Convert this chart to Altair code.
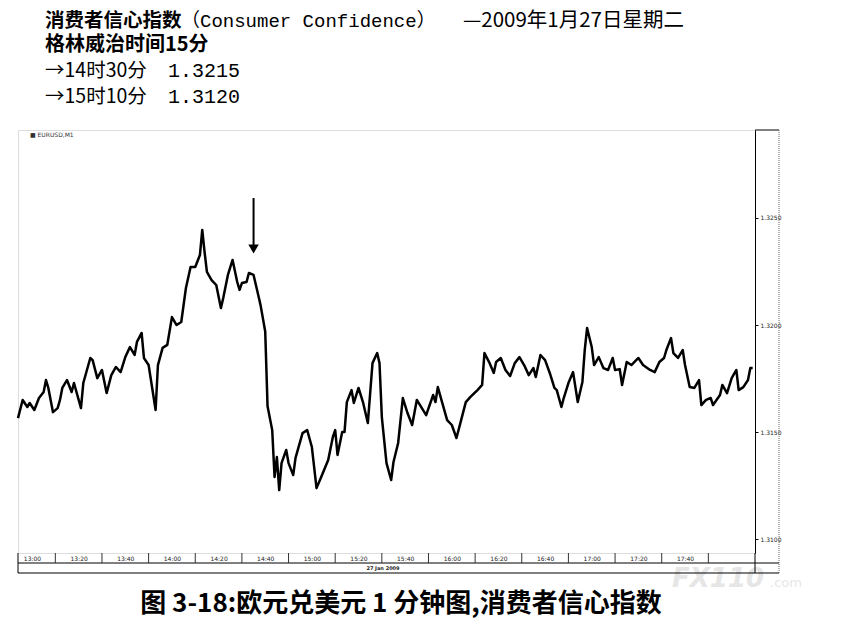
import altair as alt
import pandas as pd

# ---- data (minutes after 12:54 GMT, EURUSD price) ----
minutes = [0,2,4,5,7,9,11,12,13,15,17,18,19,21,23,24,27,28,31,32,34,36,38,40,42,44,46,48,50,51,
           53,54,56,57,59,60,62,64,66,68,70,72,74,76,78,79,80,81,83,85,87,88,90,92,94,95,96,98,99,101,
           103,104,106,107,109,110,111,112,113,115,116,118,119,122,124,126,128,130,133,135,136,137,139,140,
           141,143,144,146,148,150,151,152,154,155,156,158,160,161,163,165,167,169,171,175,178,179,180,
           184,186,188,190,192,194,197,199,200,202,204,205,207,209,211,213,215,217,219,221,222,224,226,
           228,230,231,233,234,236,238,240,242,243,244,246,247,249,251,253,255,256,258,259,261,263,266,
           268,271,273,275,277,278,280,281,283,285,286,288,290,292,293,295,297,298,301,302,304,306,308,
           309,311,313,314,315]
prices = [1.31565,1.31650,1.31617,1.31636,1.31603,1.31659,1.31687,1.31743,1.31706,1.31593,1.31612,1.31650,
          1.31706,1.31743,1.31687,1.31729,1.31612,1.31729,1.31846,1.31836,1.31752,1.31790,1.31682,1.31766,
          1.31804,1.31780,1.31850,1.31897,1.31860,1.31921,1.31963,1.31846,1.31813,1.31743,1.31603,1.31813,
          1.31893,1.31907,1.32037,1.32000,1.32014,1.32173,1.32271,1.32271,1.32327,1.32444,1.32341,1.32248,
          1.32210,1.32187,1.32079,1.32126,1.32234,1.32304,1.32201,1.32164,1.32196,1.32201,1.32243,1.32234,
          1.32140,1.32093,1.31970,1.31620,1.31509,1.31290,1.31383,1.31229,1.31355,1.31416,1.31355,1.31299,
          1.31379,1.31495,1.31509,1.31430,1.31238,1.31290,1.31369,1.31477,1.31509,1.31393,1.31500,1.31500,
          1.31640,1.31696,1.31636,1.31706,1.31636,1.31542,1.31682,1.31822,1.31869,1.31822,1.31570,1.31355,
          1.31276,1.31360,1.31449,1.31659,1.31589,1.31533,1.31650,1.31579,1.31673,1.31640,1.31710,1.31556,
          1.31533,1.31472,1.31556,1.31640,1.31664,1.31696,1.31720,1.31869,1.31827,1.31776,1.31827,1.31846,
          1.31790,1.31762,1.31822,1.31850,1.31813,1.31766,1.31799,1.31757,1.31860,1.31836,1.31776,1.31706,
          1.31696,1.31617,1.31659,1.31729,1.31780,1.31640,1.31734,1.31883,1.31986,1.31897,1.31813,1.31850,
          1.31799,1.31790,1.31846,1.31790,1.31794,1.31720,1.31827,1.31813,1.31846,1.31813,1.31790,1.31780,
          1.31827,1.31846,1.31883,1.31939,1.31869,1.31846,1.31883,1.31813,1.31710,1.31706,1.31743,1.31626,
          1.31650,1.31659,1.31626,1.31673,1.31720,1.31682,1.31752,1.31790,1.31696,1.31710,1.31743,1.31799,
          1.31799]
assert len(minutes) == len(prices)

x_tick_minutes = [6, 26, 46, 66, 86, 106, 126, 146, 166, 186, 206, 226, 246, 266, 286]
x_sep_minutes = [16, 36, 56, 76, 96, 116, 136, 156, 176, 196, 216, 236, 256, 276, 296]
y_ticks = [1.3100, 1.3150, 1.3200, 1.3250]
x_domain = [0, 316]
y_domain = [1.30935, 1.32911]

arrow_minute = [101]
arrow_top = [1.32593]
arrow_tip = [1.32355]

title_bold_1 = "消费者信心指数"
title_en = "（Consumer Confidence）"
title_date = "—2009年1月27日星期二"
line_2 = "格林威治时间15分"
line_3_label = "→14时30分"
line_3_value = "1.3215"
line_4_label = "→15时10分"
line_4_value = "1.3120"
caption = "图 3-18:欧元兑美元 1 分钟图,消费者信心指数"
legend_label = "■ EURUSD,M1"
date_label = "27 Jan 2009"

CJK = "Noto Sans CJK SC"
xscale = alt.Scale(domain=x_domain, nice=False, zero=False)
yscale = alt.Scale(domain=y_domain, nice=False, zero=False)
xaxis = alt.Axis(values=x_tick_minutes, title=None, orient="bottom", ticks=False, domain=False,
                 grid=False, labelFontSize=6, labelPadding=2, labelColor="#222", labelFont="DejaVu Sans",
                 labelExpr="timeFormat(datetime(2009,0,27,12,54+datum.value),'%H:%M')")
yaxis = alt.Axis(values=y_ticks, orient="right", title=None, format=".4f", grid=False,
                 tickSize=3, tickColor="black", domainColor="black", labelFontSize=6,
                 labelPadding=2, labelColor="#222", labelFont="DejaVu Sans")

df = pd.DataFrame({"minute": minutes, "price": prices})

line = alt.Chart(df).mark_line(color="black", strokeWidth=2.5, strokeJoin="round").encode(
    x=alt.X("minute:Q", scale=xscale, axis=xaxis),
    y=alt.Y("price:Q", scale=yscale, axis=yaxis),
)

arrow_df = pd.DataFrame({"minute": arrow_minute, "price": arrow_top, "p2": arrow_tip})
arrow_shaft = alt.Chart(arrow_df).mark_rule(color="black", strokeWidth=2).encode(
    x=alt.X("minute:Q", scale=xscale, axis=xaxis),
    y=alt.Y("price:Q", scale=yscale, axis=yaxis), y2="p2:Q")
arrow_head = alt.Chart(arrow_df).mark_point(shape="triangle-down", filled=True, color="black",
                                            opacity=1, size=110).encode(
    x=alt.X("minute:Q", scale=xscale, axis=xaxis),
    y=alt.Y("p2:Q", scale=yscale, axis=yaxis))

sep = alt.Chart(pd.DataFrame({"minute": x_sep_minutes})).mark_rule(color="#333", strokeWidth=1).encode(
    x=alt.X("minute:Q", scale=xscale, axis=xaxis), y=alt.value(423), y2=alt.value(433))


def frame(x1, x2, y1, y2, dash=None, color="black"):
    kw = dict(color=color, strokeWidth=1)
    if dash:
        kw["strokeDash"] = dash
    return alt.Chart(pd.DataFrame({"a": [0]})).mark_rule(**kw).encode(
        x=alt.value(x1), x2=alt.value(x2), y=alt.value(y1), y2=alt.value(y2))


frames = [
    frame(737, 761, 0, 0),
    frame(761, 761, 0, 443, dash=[1, 1], color="#666"),
    frame(737, 737, 423, 443),
    frame(0, 0, 423, 443),
    frame(0, 761, 433, 433),
    frame(0, 761, 443, 443),
]


def txt(s, x, y, size, weight="normal", font=CJK, align="left", color="black", style="normal"):
    return alt.Chart(pd.DataFrame({"s": [s]})).mark_text(
        align=align, baseline="middle", fontSize=size, fontWeight=weight, font=font,
        color=color, fontStyle=style).encode(x=alt.value(x), y=alt.value(y), text="s:N")


MONO = "Liberation Mono, " + CJK
texts_back = [
    txt("FX110", 654, 449, 26, weight="bold", color="#e6e6e6", font="DejaVu Sans", style="italic"),
    txt(".com", 752, 453, 13, color="#e6e6e6", font="DejaVu Sans"),
]
texts = [
    txt(title_bold_1, 27, -109, 19.5, weight="bold"),
    txt(title_en, 163, -109, 19, font=MONO),
    txt(title_date, 445, -109, 20.5),
    txt(line_2, 27, -85, 20, weight="bold"),
    txt(line_3_label, 27, -59, 19.5),
    txt(line_3_value, 150, -59, 20, font=MONO),
    txt(line_4_label, 27, -33, 19.5),
    txt(line_4_value, 150, -33, 20, font=MONO),
    txt(legend_label, 12, 5, 6, color="#333", font="DejaVu Sans"),
    txt(date_label, 365, 438, 5, weight="bold", color="#222", font="DejaVu Sans", align="center"),
    txt(caption, 383, 474, 26, weight="bold", align="center"),
]

chart = alt.layer(*texts_back, *frames, sep, line, arrow_shaft, arrow_head, *texts).properties(
    width=737, height=423,
    padding={"left": 10, "top": 122, "right": 66, "bottom": 72},
    autosize=alt.AutoSizeParams(type="none"),
).configure_view(stroke="black", strokeWidth=1).configure(font=CJK, background="white")

chart.save("out.html", embed_options={"renderer": "svg", "actions": False})
